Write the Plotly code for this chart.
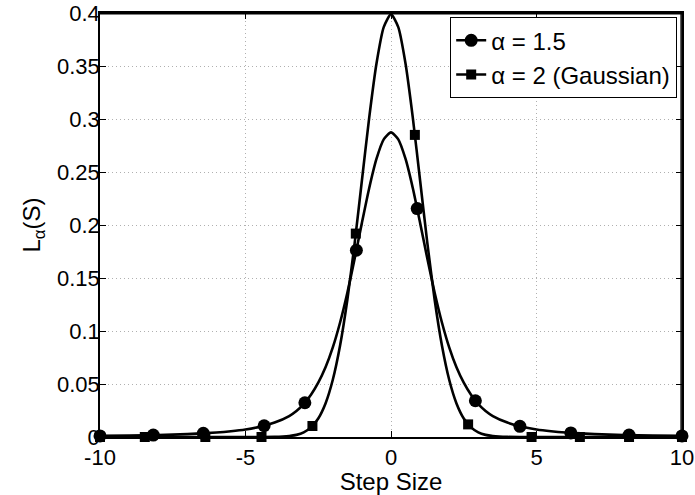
import plotly.graph_objects as go

# Curve sample points (step size)
x_grid = [-10, -9, -8, -7, -6, -5.5, -5, -4.5, -4, -3.5, -3.25, -3, -2.75, -2.5, -2.25,
          -2, -1.75, -1.5, -1.25, -1, -0.75, -0.5, -0.25, 0, 0.25, 0.5, 0.75, 1, 1.25,
          1.5, 1.75, 2, 2.25, 2.5, 2.75, 3, 3.25, 3.5, 4, 4.5, 5, 5.5, 6, 7, 8, 9, 10]

# alpha = 1.5 density values
levy_vals = [0.00105, 0.00139, 0.00191, 0.00275, 0.00423, 0.00542, 0.00712, 0.00966, 0.0136,
             0.0198, 0.0246, 0.0310, 0.0398, 0.0512, 0.0657, 0.0845, 0.1080, 0.1361, 0.1681,
             0.2020, 0.2347, 0.2623, 0.2808, 0.2874, 0.2808, 0.2623, 0.2347, 0.2020, 0.1681,
             0.1361, 0.1080, 0.0845, 0.0657, 0.0512, 0.0398, 0.0310, 0.0246, 0.0198, 0.0136,
             0.00966, 0.00712, 0.00542, 0.00423, 0.00275, 0.00191, 0.00139, 0.00105]

# alpha = 2 (Gaussian) density values
gauss_vals = [0, 0, 0, 0, 0, 0, 0, 0.00001, 0.0001, 0.0009, 0.0020, 0.0044, 0.0091, 0.0175,
              0.0317, 0.0540, 0.0863, 0.1295, 0.1826, 0.2420, 0.3011, 0.3521, 0.3867, 0.3989,
              0.3867, 0.3521, 0.3011, 0.2420, 0.1826, 0.1295, 0.0863, 0.0540, 0.0317, 0.0175,
              0.0091, 0.0044, 0.0020, 0.0009, 0.0001, 0.00001, 0, 0, 0, 0, 0, 0, 0]

# Marker positions
levy_mx = [-10, -8.17, -6.45, -4.36, -2.96, -1.19, 0.90, 2.90, 4.43, 6.18, 8.18, 10]
levy_my = [0.00105, 0.00181, 0.00345, 0.0106, 0.0323, 0.1762, 0.2155, 0.0342, 0.0101,
           0.00389, 0.00181, 0.00105]
gauss_mx = [-10, -8.46, -6.38, -4.45, -2.70, -1.21, 0.82, 2.65, 4.83, 6.49, 8.18, 10]
gauss_my = [0, 0, 0, 0.00002, 0.0104, 0.1919, 0.2850, 0.0119, 0, 0, 0, 0]

series_names = ["α = 1.5", "α = 2 (Gaussian)"]
x_ticks = [-10, -5, 0, 5, 10]
y_ticks = [0, 0.05, 0.1, 0.15, 0.2, 0.25, 0.3, 0.35, 0.4]
y_ticklabels = ["0", "0.05", "0.1", "0.15", "0.2", "0.25", "0.3", "0.35", "0.4"]

FONT = "Liberation Sans, Arial, Helvetica, sans-serif"
LW = 2.6

fig = go.Figure()

# curves
fig.add_trace(go.Scatter(x=x_grid, y=levy_vals, mode="lines",
                         line=dict(color="black", width=LW, shape="spline", smoothing=0.6),
                         showlegend=False, cliponaxis=False, hoverinfo="skip"))
fig.add_trace(go.Scatter(x=x_grid, y=gauss_vals, mode="lines",
                         line=dict(color="black", width=LW, shape="spline", smoothing=0.6),
                         showlegend=False, cliponaxis=False, hoverinfo="skip"))
# markers
fig.add_trace(go.Scatter(x=gauss_mx, y=gauss_my, mode="markers",
                         marker=dict(symbol="square", size=10, color="black"),
                         showlegend=False, cliponaxis=False))
fig.add_trace(go.Scatter(x=levy_mx, y=levy_my, mode="markers",
                         marker=dict(symbol="circle", size=13, color="black"),
                         showlegend=False, cliponaxis=False))
# legend entries
fig.add_trace(go.Scatter(x=[None], y=[None], mode="lines+markers", name=series_names[0],
                         line=dict(color="black", width=LW),
                         marker=dict(symbol="circle", size=13, color="black")))
fig.add_trace(go.Scatter(x=[None], y=[None], mode="lines+markers", name=series_names[1],
                         line=dict(color="black", width=LW),
                         marker=dict(symbol="square", size=10, color="black")))

axis_common = dict(showline=True, linecolor="black", linewidth=1.5, mirror="allticks",
                   ticks="inside", ticklen=6, tickcolor="black", tickwidth=1,
                   showgrid=True, gridcolor="#b0b0b0", griddash="1px,3px", gridwidth=1,
                   zeroline=False, automargin=False, ticklabeloverflow="allow",
                   tickfont=dict(size=22, color="black", family=FONT))

fig.update_xaxes(range=[-10, 10], tickvals=x_ticks, ticktext=[str(v) for v in x_ticks],
                 title=dict(text="Step Size", font=dict(size=24, color="black", family=FONT),
                            standoff=6),
                 **axis_common)
fig.update_yaxes(range=[0, 0.4], tickvals=y_ticks, ticktext=y_ticklabels,
                 ticklabelstandoff=-6,
                 title=dict(text="L<sub>α</sub>(S)", font=dict(size=24, color="black", family=FONT),
                            standoff=10),
                 **axis_common)

# top and right frame lines (MATLAB box), hugging the domain edges
fig.add_shape(type="line", xref="paper", yref="paper", x0=0, x1=1, y0=0.998, y1=0.998,
              line=dict(color="black", width=1.5), layer="above")
fig.add_shape(type="line", xref="paper", yref="paper", x0=0.9985, x1=0.9985, y0=0, y1=1,
              line=dict(color="black", width=1.5), layer="above")

fig.update_layout(
    width=695, height=495,
    margin=dict(l=100, r=13, t=13, b=58),
    paper_bgcolor="white", plot_bgcolor="white",
    font=dict(family=FONT, color="black"),
    legend=dict(x=0.9914, y=0.9906, xanchor="right", yanchor="top",
                bgcolor="white", bordercolor="black", borderwidth=1.2,
                font=dict(size=24, color="black", family=FONT),
                tracegroupgap=0, itemwidth=30),
)

fig.write_html("out.html")
